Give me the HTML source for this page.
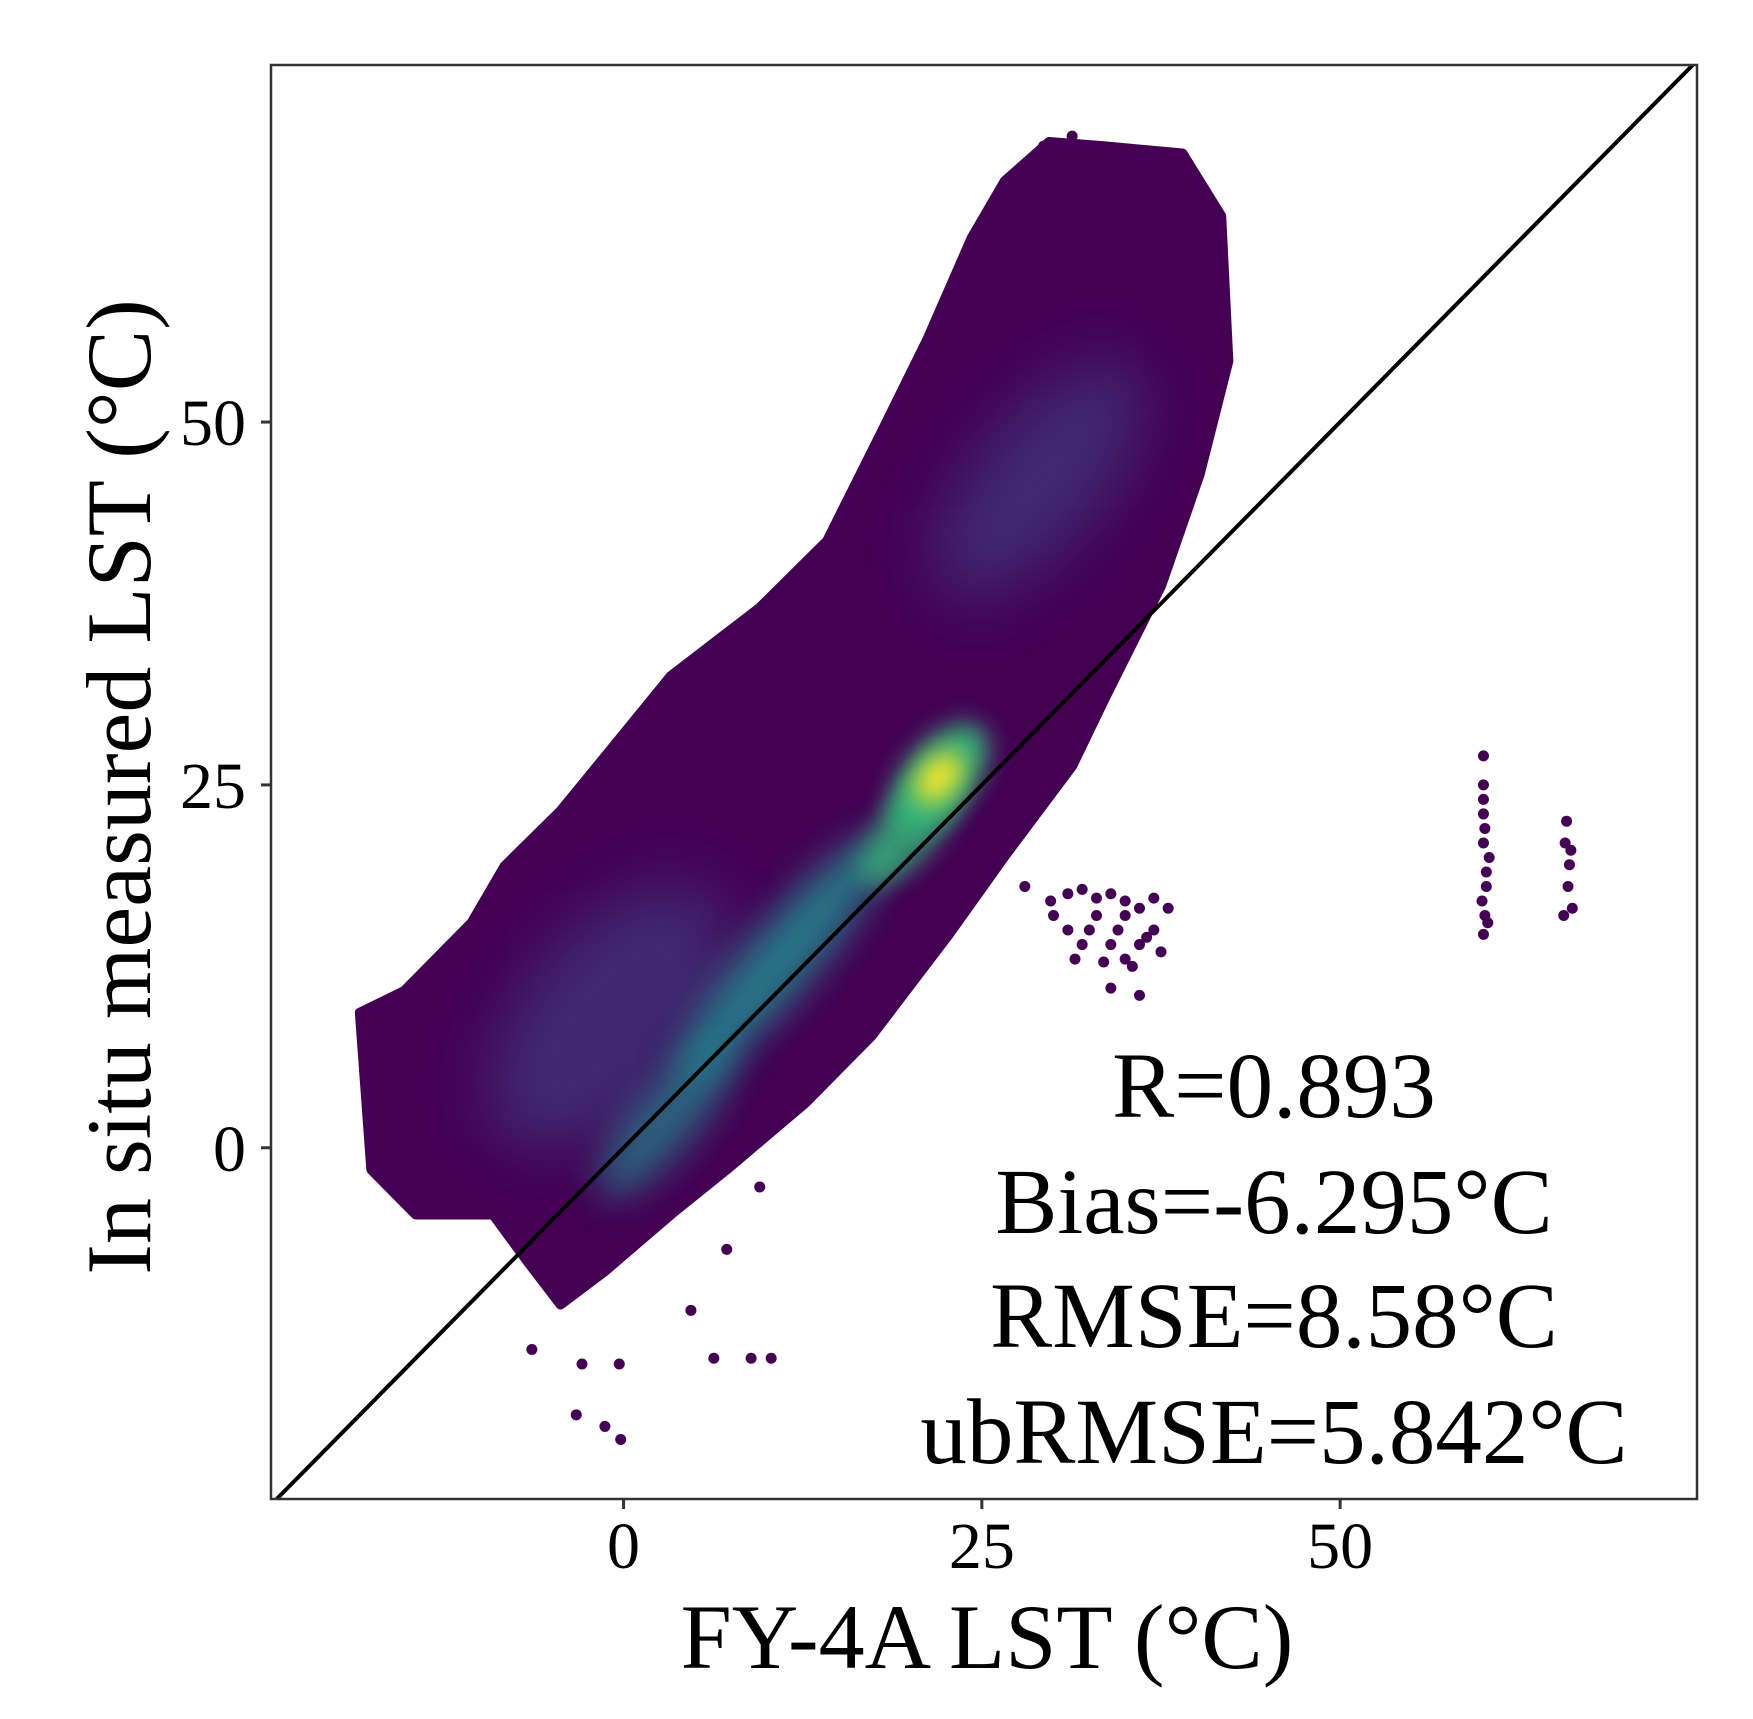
<!DOCTYPE html>
<html><head><meta charset="utf-8"><style>
html,body{margin:0;padding:0;background:#fff;}
svg text{font-family:"Liberation Serif",serif;fill:#000;}
</style></head><body>
<svg id="chart" width="1753" height="1714" viewBox="0 0 1753 1714" xmlns="http://www.w3.org/2000/svg">
<defs>
<filter id="blur1" x="-50%" y="-50%" width="200%" height="200%"><feGaussianBlur stdDeviation="30"/></filter>
<filter id="blur2" x="-50%" y="-50%" width="200%" height="200%"><feGaussianBlur stdDeviation="12"/></filter>
<filter id="blur3" x="-50%" y="-50%" width="200%" height="200%"><feGaussianBlur stdDeviation="18"/></filter>
<clipPath id="cloudclip"><polygon id="cloudclipPoly"/></clipPath>
<clipPath id="plotclip"><rect x="271" y="65" width="1426" height="1434"/></clipPath>
</defs>
<rect x="271" y="65" width="1426" height="1434" fill="#fff"/>
<g id="marks" clip-path="url(#plotclip)"></g>
<line id="oneToOne" stroke="#000" stroke-width="4"/>
<rect x="271" y="65" width="1426" height="1434" fill="none" stroke="#333" stroke-width="2.5"/>
<g id="axes"></g>
<text x="987" y="1668" font-size="92" text-anchor="middle">FY-4A LST (°C)</text>
<text transform="translate(150,787) rotate(-90)" font-size="92" text-anchor="middle">In situ measured LST (°C)</text>
<g font-size="93" text-anchor="middle">
<text x="1274" y="1117">R=0.893</text>
<text x="1274" y="1233">Bias=-6.295°C</text>
<text x="1274" y="1347">RMSE=8.58°C</text>
<text x="1274" y="1463">ubRMSE=5.842°C</text>
</g>
</svg>
<script>
// ---- data ----
const xTicks = [0, 25, 50];
const yTicks = [0, 25, 50];
const xDomain = [-24.6, 74.9];
const yDomain = [-24.2, 74.6];
// main cloud outline (FY-4A x, in situ y)
const cloudX = [29.7,33.5,39,41.7,42.2,40.2,37.5,33.6,31.3,26.6,22.7,17.3,12.7,7.2,3.3,-1.3,-4.4,-6.8,-9.1,-14.5,-17.6,-18.4,-15.3,-10.6,-8.3,-4.4,-0.5,3.3,9.5,14.2,18.1,21.2,24.3,26.6];
const cloudY = [69.3,69,68.5,64.2,54.2,46.4,38.7,31,26.3,20.1,14.7,7.7,3.1,-1.5,-4.6,-8.5,-10.8,-7.7,-4.6,-4.6,-1.5,9.3,10.8,15.5,19.4,23.2,27.9,32.5,37.2,41.8,49.5,55.7,62.7,66.6];
// density blobs: centre x, centre y, half-length (units), half-width, level, opacity
const blobX = [-1, 29, 11, 3, 20, 22, 22];
const blobY = [9, 46, 13, 2, 22, 25.5, 25.5];
const blobLen = [11, 10, 11, 7, 5, 4.5, 2];
const blobWid = [6, 4.5, 2.4, 2.2, 2, 2.4, 1.3];
const blobLevel = [1, 1, 2, 2, 3, 3, 4];
const blobOpacity = [0.55, 0.55, 0.85, 0.7, 0.8, 0.95, 0.95];
const levelColors = ['#440154','#3e4a89','#23898e','#35b779','#fde725'];
// outlier points
const ptX = [-6.4,-2.9,-0.3,-3.3,-1.3,-0.2,4.7,6.3,8.9,10.3,7.2,9.5,29.3,31.3,
  60,60,60,60,60.2,59.9,60.3,60,60.1,60.4,60,60.2,60.1,
  65.8,65.7,66,65.9,66.2,65.6,66.1,
  28,29.8,31,32,33,34,35,36,37,38,32.5,34.5,36.5,31.5,33.5,35.5,37.5,34,36,30,33,35,37,31,34,36,32,35];
const ptY = [-13.9,-14.9,-14.9,-18.4,-19.2,-20.1,-11.2,-14.5,-14.5,-14.5,-7,-2.7,69,69.7,
  27,25,23,21,19,17,15.5,14.7,22,20,24,18,16,
  22.5,21,19.5,18,16.5,16,20.5,
  18,17,17.5,17.8,17.2,17.5,17,16.5,17.2,16.5,15,15,14.5,13,12.8,12.5,13.5,11,10.5,16,16,16,15,15,14,14,14,13];
// ---- scales ----
const L=271,R=1697,T=65,B=1499;
const sx=v=>L+(v-xDomain[0])/(xDomain[1]-xDomain[0])*(R-L);
const sy=v=>B-(v-yDomain[0])/(yDomain[1]-yDomain[0])*(B-T);
const NS='http://www.w3.org/2000/svg';
const mk=(t,a,p)=>{const e=document.createElementNS(NS,t);for(const k in a)e.setAttribute(k,a[k]);p.appendChild(e);return e;};
const marks=document.getElementById('marks');
const ppx=(R-L)/(xDomain[1]-xDomain[0]);
// cloud
const polyPts=cloudX.map((x,i)=>sx(x)+','+sy(cloudY[i])).join(' ');
document.getElementById('cloudclipPoly').setAttribute('points',polyPts);
const cloud=mk('polygon',{points:polyPts,fill:'#440154',stroke:'#440154','stroke-width':10,'stroke-linejoin':'round'},marks);


const dens=mk('g',{'clip-path':'url(#cloudclip)'},marks);
blobX.forEach((x,i)=>{
  const lv=blobLevel[i];
  const e=mk('ellipse',{cx:sx(x),cy:sy(blobY[i]),rx:blobLen[i]*ppx,ry:blobWid[i]*ppx,fill:levelColors[lv],
    opacity:blobOpacity[i],filter:lv>=3?'url(#blur2)':(lv==2?'url(#blur3)':'url(#blur1)'),
    transform:`rotate(-50 ${sx(x)} ${sy(blobY[i])})`},dens);
  
  
});
ptX.forEach((x,i)=>{
  const c=mk('circle',{cx:sx(x),cy:sy(ptY[i]),r:5.5,fill:'#440154'},marks);
  
  
});
// 1:1 line
const ln=document.getElementById('oneToOne');
const lo=Math.max(xDomain[0],yDomain[0]),hi=Math.min(xDomain[1],yDomain[1]);
ln.setAttribute('x1',sx(lo));ln.setAttribute('y1',sy(lo));ln.setAttribute('x2',sx(hi));ln.setAttribute('y2',sy(hi));
// axes
const ax=document.getElementById('axes');
xTicks.forEach(v=>{
  const t=mk('line',{x1:sx(v),x2:sx(v),y1:B,y2:B+10,stroke:'#333','stroke-width':3},ax);
  
  
  const l=mk('text',{x:sx(v),y:1568,'font-size':66,'text-anchor':'middle'},ax);l.textContent=v;
  
  
});
yTicks.forEach(v=>{
  const t=mk('line',{x1:L-10,x2:L,y1:sy(v),y2:sy(v),stroke:'#333','stroke-width':3},ax);
  
  
  const l=mk('text',{x:246,y:sy(v)+23,'font-size':66,'text-anchor':'end'},ax);l.textContent=v;
  
  
});
</script>
</body></html>
